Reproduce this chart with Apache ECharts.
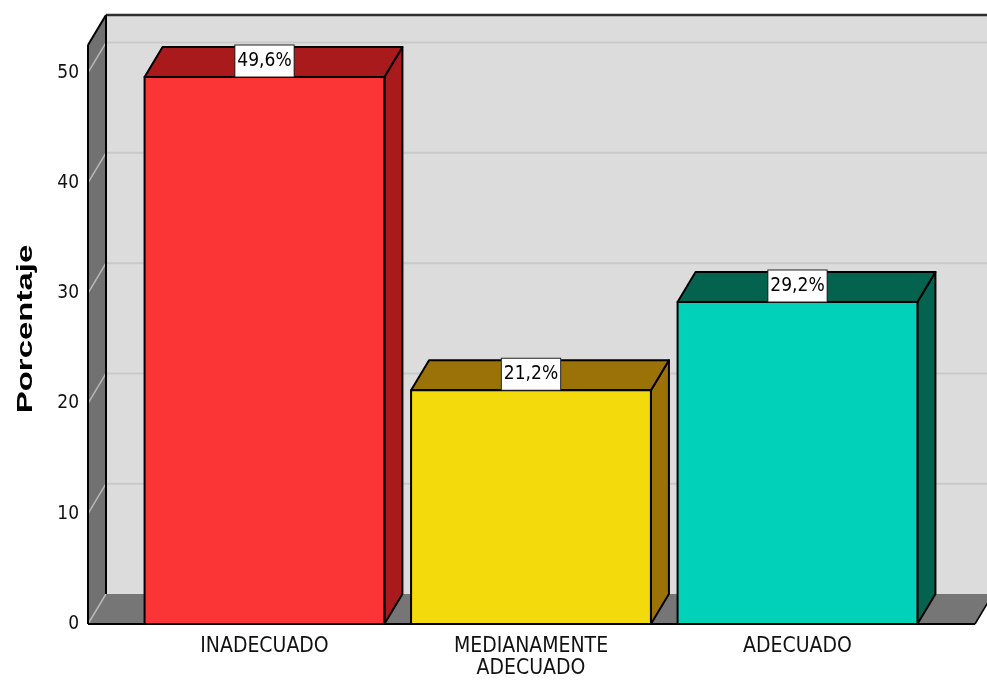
<!DOCTYPE html>
<html>
<head>
<meta charset="utf-8">
<title>Porcentaje</title>
<script src="https://cdn.jsdelivr.net/npm/echarts@6/dist/echarts.min.js"></script>
<style>
  html, body { margin: 0; padding: 0; background: #ffffff; }
  #chart { width: 987px; height: 683px; }
</style>
</head>
<body>
<div id="chart"></div>
<script>
// Chart data
const categories = ['INADECUADO', 'MEDIANAMENTE\nADECUADO', 'ADECUADO'];
const percentages = [49.6, 21.2, 29.2];
const yTicks = [0, 10, 20, 30, 40, 50];
const yMax = 52.5;

// Styling
const frontColors = ['#fb3535', '#f2da0c', '#02d1b9'];
const shadeColors = ['#a81a1b', '#9b7208', '#04634f'];
const DEPTH_X = 18;     // depth offset of the 3D box, px
const DEPTH_Y = -30;
const NARROW = '"Liberation Sans Narrow", "Arial Narrow", "DejaVu Sans Condensed", sans-serif';

function formatPct(v) {
  return v.toFixed(1).replace('.', ',') + '%';
}

const chart = echarts.init(document.getElementById('chart'), null, { renderer: 'canvas' });

// Box frame: back wall, left wall, floor and grid lines
function renderFrame(params, api) {
  const cs = params.coordSys;
  const left = cs.x, right = cs.x + cs.width, top = cs.y;
  const y0 = api.coord([0, 0])[1];
  const children = [];
  // back wall
  children.push({ type: 'polygon', shape: { points: [
    [left + DEPTH_X, top + DEPTH_Y], [right + DEPTH_X, top + DEPTH_Y],
    [right + DEPTH_X, y0 + DEPTH_Y], [left + DEPTH_X, y0 + DEPTH_Y]] },
    style: { fill: '#dcdcdc' } });
  // left wall
  children.push({ type: 'polygon', shape: { points: [
    [left, y0], [left, top], [left + DEPTH_X, top + DEPTH_Y], [left + DEPTH_X, y0 + DEPTH_Y]] },
    style: { fill: '#717171' } });
  // floor
  children.push({ type: 'polygon', shape: { points: [
    [left, y0], [right, y0], [right + DEPTH_X, y0 + DEPTH_Y], [left + DEPTH_X, y0 + DEPTH_Y]] },
    style: { fill: '#767676' } });
  // grid lines on back and left walls
  yTicks.forEach(function (t) {
    const yf = api.coord([0, t])[1];
    if (t > 0) {
      children.push({ type: 'line', shape: { x1: left + DEPTH_X, y1: yf + DEPTH_Y, x2: right + DEPTH_X, y2: yf + DEPTH_Y },
        style: { stroke: '#c9c9c9', lineWidth: 2 } });
    }
    children.push({ type: 'line', shape: { x1: left, y1: yf, x2: left + DEPTH_X, y2: yf + DEPTH_Y },
      style: { stroke: '#b8b8b8', lineWidth: 1.5 } });
  });
  // edges
  const edge = { stroke: '#000', lineWidth: 2 };
  children.push({ type: 'line', shape: { x1: left + DEPTH_X, y1: top + DEPTH_Y, x2: right + DEPTH_X + 20, y2: top + DEPTH_Y },
    style: { stroke: '#2e2e2e', lineWidth: 2.5 } });
  children.push({ type: 'line', shape: { x1: left + DEPTH_X, y1: top + DEPTH_Y, x2: left + DEPTH_X, y2: y0 + DEPTH_Y }, style: edge });
  children.push({ type: 'line', shape: { x1: left, y1: top, x2: left + DEPTH_X, y2: top + DEPTH_Y }, style: edge });
  children.push({ type: 'line', shape: { x1: left, y1: top, x2: left, y2: y0 }, style: edge });
  children.push({ type: 'line', shape: { x1: left, y1: y0, x2: right, y2: y0 }, style: edge });
  children.push({ type: 'line', shape: { x1: right, y1: y0, x2: right + DEPTH_X, y2: y0 + DEPTH_Y },
    style: { stroke: '#000', lineWidth: 1.5 } });
  return { type: 'group', children: children };
}

// 3D bar: front face, top face, right side face and value label
function renderBar(params, api) {
  const idx = params.dataIndex;
  const i = api.value(0), v = api.value(1);
  const topPt = api.coord([i, v]);
  const basePt = api.coord([i, 0]);
  const w = api.size([1, 0])[0] * 0.9;
  const x1 = topPt[0] - w / 2, x2 = topPt[0] + w / 2;
  const yt = topPt[1], yb = basePt[1];
  const outline = { stroke: '#000', lineWidth: 2, lineJoin: 'round' };
  return {
    type: 'group',
    children: [
      { type: 'polygon', shape: { points: [[x2, yt], [x2 + DEPTH_X, yt + DEPTH_Y], [x2 + DEPTH_X, yb + DEPTH_Y], [x2, yb]] },
        style: Object.assign({ fill: shadeColors[idx] }, outline) },
      { type: 'polygon', shape: { points: [[x1, yt], [x1 + DEPTH_X, yt + DEPTH_Y], [x2 + DEPTH_X, yt + DEPTH_Y], [x2, yt]] },
        style: Object.assign({ fill: shadeColors[idx] }, outline) },
      { type: 'rect', shape: { x: x1, y: yt, width: w, height: yb - yt },
        style: Object.assign({ fill: frontColors[idx] }, outline) },
      { type: 'text', x: topPt[0], y: yt - 16,
        style: {
          text: formatPct(v), align: 'center', verticalAlign: 'middle',
          font: '19px ' + NARROW, fill: '#000',
          backgroundColor: '#ffffff', borderColor: '#222', borderWidth: 1,
          padding: [6, 2, 6, 2]
        } }
    ]
  };
}

const option = {
  animation: false,
  backgroundColor: '#ffffff',
  grid: [
    { left: 88, right: 12, top: 45, bottom: 59 },
    { left: 131.25, right: 56.25, top: 45, bottom: 59 }
  ],
  xAxis: [
    { gridIndex: 0, type: 'value', min: -0.66, max: 2.66, show: false },
    { gridIndex: 1, type: 'category', data: categories,
      axisLine: { show: false }, axisTick: { show: false }, splitLine: { show: false },
      axisLabel: { interval: 0, margin: 12, fontFamily: NARROW, fontSize: 21, lineHeight: 22, color: '#111' } }
  ],
  yAxis: [
    { gridIndex: 0, type: 'value', min: 0, max: yMax, interval: 10,
      axisLine: { show: false }, axisTick: { show: false }, splitLine: { show: false },
      axisLabel: { margin: 9, fontFamily: NARROW, fontSize: 19, color: '#111',
        formatter: function (val) { return yTicks.indexOf(val) >= 0 ? String(val) : ''; } } },
    { gridIndex: 1, type: 'value', min: 0, max: yMax, show: false }
  ],
  graphic: [
    { type: 'text', x: 26, y: 329, rotation: Math.PI / 2, scaleX: 1.5,
      style: { text: 'Porcentaje', font: 'bold 22px "Liberation Sans", Arial, sans-serif', fill: '#000',
        align: 'center', verticalAlign: 'middle' } }
  ],
  series: [
    { type: 'custom', xAxisIndex: 0, yAxisIndex: 0, silent: true, clip: false, z: 1,
      data: [[0, 0]], renderItem: renderFrame },
    { type: 'custom', xAxisIndex: 1, yAxisIndex: 1, silent: true, clip: false, z: 2,
      data: percentages.map(function (v, i) { return [i, v]; }),
      encode: { x: 0, y: 1 }, renderItem: renderBar }
  ]
};

chart.setOption(option);
</script>
</body>
</html>
